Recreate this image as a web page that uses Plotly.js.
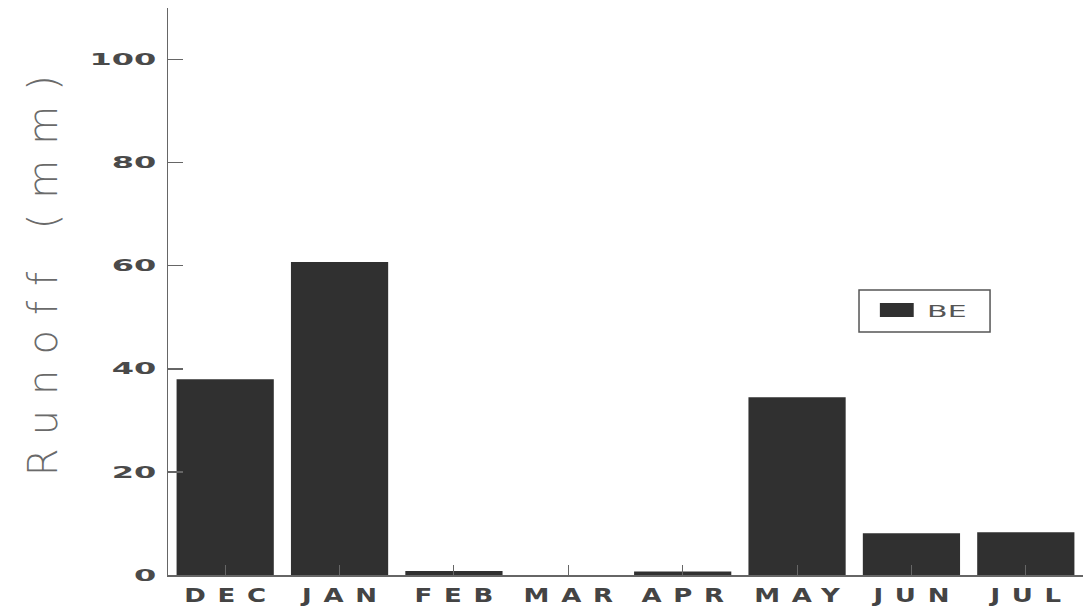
<!DOCTYPE html>
<html>
<head>
<meta charset="utf-8">
<script src="https://cdn.plot.ly/plotly-3.0.1.min.js"></script>
<style>
  html, body { margin: 0; padding: 0; background: #fff; }
  #chart { width: 1088px; height: 610px; }
  .xtick text { letter-spacing: 9px; }
  .annotation[data-index="0"] .annotation-text { letter-spacing: 15px; }
</style>
</head>
<body>
<div id="chart"></div>
<script>
const months = ["DEC", "JAN", "FEB", "MAR", "APR", "MAY", "JUN", "JUL"];
const runoff = [38.0, 60.7, 0.8, 0, 0.7, 34.5, 8.1, 8.3];
const seriesName = "BE";
const yTickVals = [0, 20, 40, 60, 80, 100];
const yTitle = "Runoff (mm)";

const barColor = "#303030";
const lineColor = "#666666";

const trace = {
  type: "bar",
  x: months,
  y: runoff,
  name: seriesName,
  marker: { color: barColor, line: { width: 0 } },
  showlegend: false,
  hoverinfo: "x+y"
};

const layout = {
  width: 1088,
  height: 610,
  paper_bgcolor: "#ffffff",
  plot_bgcolor: "#ffffff",
  margin: { l: 168, r: 5, t: 8, b: 35 },
  bargap: 0.15,
  showlegend: false,
  xaxis: {
    type: "category",
    range: [-0.5, 7.5],
    showline: true,
    linecolor: lineColor,
    linewidth: 1.5,
    ticks: "inside",
    ticklen: 10,
    tickcolor: lineColor,
    tickwidth: 1,
    showgrid: false,
    zeroline: false,
    automargin: false,
    tickfont: { family: "DejaVu Sans", size: 20, color: "#444444", weight: "bold" },
    ticklabelstandoff: 2
  },
  yaxis: {
    range: [0, 110],
    tickvals: yTickVals,
    ticktext: yTickVals.map(String),
    showline: true,
    linecolor: lineColor,
    linewidth: 1.5,
    ticks: "inside",
    ticklen: 15,
    tickcolor: lineColor,
    tickwidth: 1.5,
    showgrid: false,
    zeroline: false,
    automargin: false,
    tickfont: { family: "DejaVu Sans", size: 16, color: "#4a4a4a", weight: "bold" },
    ticklabelstandoff: 7
  },
  annotations: [
    {
      text: yTitle,
      xref: "paper", yref: "paper",
      x: -0.1366, y: 0.5406,
      xanchor: "center", yanchor: "middle",
      textangle: -90,
      showarrow: false,
      font: { family: "DejaVu Sans", size: 40, color: "#6a6a6a", weight: 200 }
    },
    {
      text: seriesName,
      xref: "paper", yref: "paper",
      x: 0.8514, y: 0.4647,
      xanchor: "center", yanchor: "middle",
      showarrow: false,
      font: { family: "DejaVu Sans", size: 15, color: "#555555" }
    }
  ],
  shapes: [
    {
      type: "rect", xref: "paper", yref: "paper",
      x0: 0.7552, x1: 0.8984, y0: 0.4286, y1: 0.5026,
      line: { color: "#555555", width: 1.5 },
      fillcolor: "rgba(0,0,0,0)"
    },
    {
      type: "rect", xref: "paper", yref: "paper",
      x0: 0.778, x1: 0.815, y0: 0.455, y1: 0.4797,
      line: { width: 0 },
      fillcolor: barColor
    }
  ]
};

// horizontally widen a text element around its anchor (the reference uses a wide typeface)
function stretch(el, sx, spacing) {
  const x = parseFloat(el.getAttribute("x")) || 0;
  const old = el.getAttribute("transform") || "";
  const shift = x + sx * (spacing || 0) / 2;
  el.setAttribute("transform", old + " translate(" + shift + ",0) scale(" + sx + ",1) translate(" + (-x) + ",0)");
}

Plotly.newPlot("chart", [trace], layout, { displayModeBar: false, staticPlot: true }).then(function () {
  document.querySelectorAll("#chart .xtick text").forEach(function (t) { stretch(t, 1.3, 9); });
  document.querySelectorAll("#chart .ytick text").forEach(function (t) { stretch(t, 2.0, 0); });
  document.querySelectorAll('#chart .annotation[data-index="1"] .annotation-text').forEach(function (t) { stretch(t, 2.0, 0); });
});
</script>
</body>
</html>
